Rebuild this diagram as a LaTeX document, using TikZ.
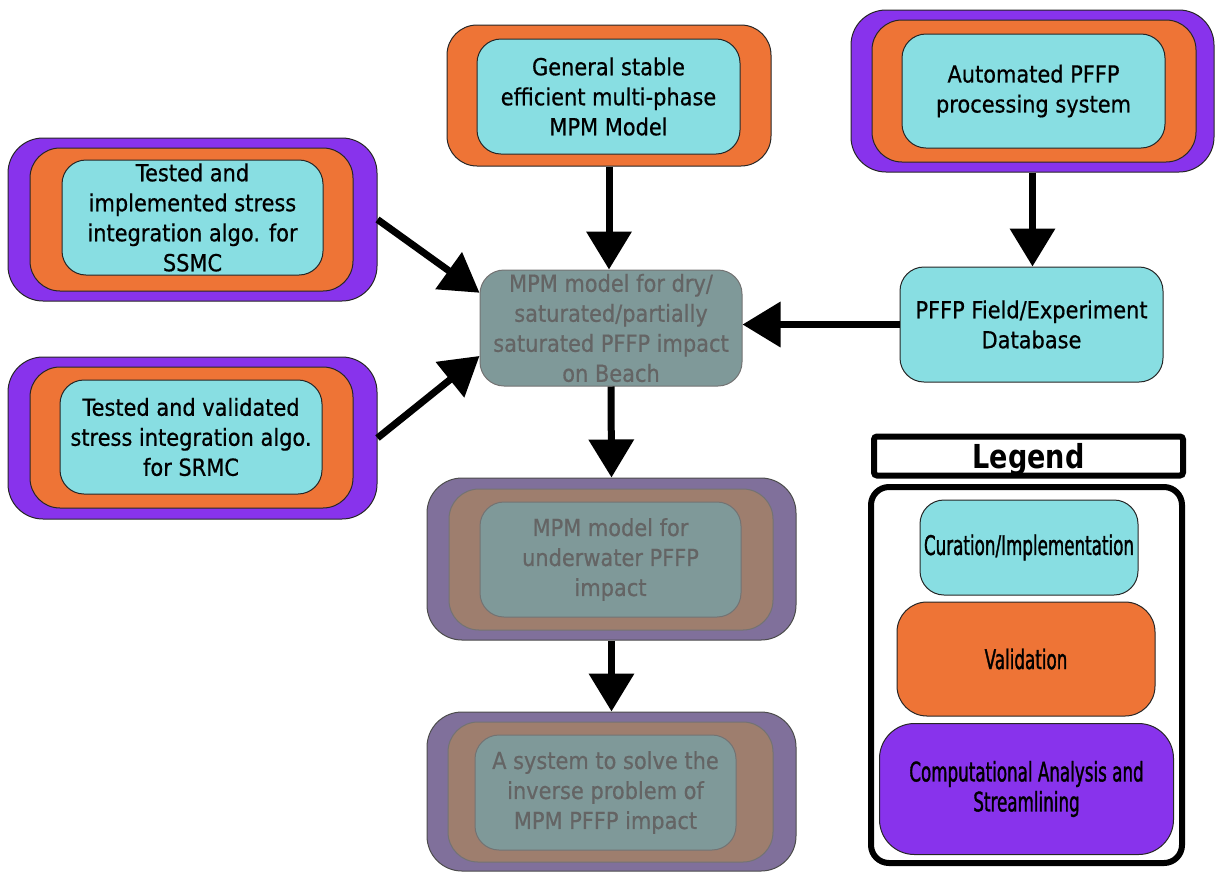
\documentclass[tikz,border=0pt]{standalone}
\usepackage{fontspec}
\setmainfont{DejaVu Sans}[FakeStretch=0.89,FakeBold=0.6]
\newfontfamily\legendfont[FakeStretch=0.62,FakeBold=1.2]{DejaVu Sans}
\newfontfamily\titlefont[FakeStretch=0.82]{DejaVu Sans}
\usetikzlibrary{arrows.meta}

\definecolor{curcyan}{RGB}{136,222,226}
\definecolor{valorange}{RGB}{238,116,54}
\definecolor{strpurple}{RGB}{136,51,236}
\definecolor{fadecyan}{RGB}{127,153,153}
\definecolor{fadeorange}{RGB}{158,126,110}
\definecolor{fadepurple}{RGB}{128,112,155}
\definecolor{fadetext}{RGB}{100,100,100}

\newcommand\boxfont{\fontsize{23.5}{30}\selectfont}
\newcommand\legfont{\legendfont\fontsize{27}{30}\selectfont}

\tikzset{
  sz/.style 2 args={minimum width=#1pt, minimum height=#2pt},
  layer/.style={draw=black!85, line width=1pt, inner sep=0pt, align=center, font=\boxfont},
  curate/.style={layer, fill=curcyan, rounded corners=24pt},
  valid/.style={layer, fill=valorange, rounded corners=30pt},
  stream/.style={layer, fill=strpurple, rounded corners=35pt},
  fcurate/.style={layer, draw=black!55, fill=fadecyan, rounded corners=24pt, text=fadetext},
  fvalid/.style={layer, draw=black!55, fill=fadeorange, rounded corners=30pt},
  fstream/.style={layer, draw=black!70, fill=fadepurple, rounded corners=35pt},
  arr/.style={line width=7pt, -{Triangle[length=38pt,width=44pt]}}
}

\begin{document}
\begin{tikzpicture}[x=1pt,y=-1pt]
\useasboundingbox (0,0) rectangle (1215,871);

% top centre
\node[valid, sz={324}{141}] (genOut) at (609,95.5) {};
\node[curate, sz={263}{115}] (gen) at (608.5,96.5) {General stable\\efficient multi-phase\\MPM Model};

% top right
\node[stream, sz={363}{162}] (autoOut) at (1032.5,91) {};
\node[valid, sz={324}{142}] (autoMid) at (1034,91) {};
\node[curate, sz={263}{114}] (auto) at (1033.5,91) {Automated PFFP\\processing system};

% left, SSMC
\node[stream, sz={369}{163}] (ssmcOut) at (192.5,219.5) {};
\node[valid, sz={323}{143}] (ssmcMid) at (191.5,219.5) {};
\node[curate, sz={261}{115}] (ssmc) at (192.5,217.5) {Tested and\\implemented stress\\integration algo. for\\SSMC};

% left, SRMC
\node[stream, sz={369}{162}] (srmcOut) at (192.5,438) {};
\node[valid, sz={323}{141}] (srmcMid) at (191.5,437.5) {};
\node[curate, sz={262}{114}] (srmc) at (191,437) {Tested and validated\\stress integration algo.\\for SRMC};

% centre
\node[fcurate, sz={262}{116}] (beach) at (611,328) {MPM model for dry/\\saturated/partially\\saturated PFFP impact\\on Beach};

% database
\node[curate, sz={263}{115}] (pffpDb) at (1031.5,324.5) {PFFP Field/Experiment\\Database};

% underwater
\node[fstream, sz={369}{162}] (underOut) at (611.5,559) {};
\node[fvalid, sz={324}{141}] (underMid) at (611,559.5) {};
\node[fcurate, sz={261}{115}] (under) at (610.5,559.5) {MPM model for\\underwater PFFP\\impact};

% inverse problem
\node[fstream, sz={369}{159}] (invOut) at (611.5,791.5) {};
\node[fvalid, sz={325}{140}] (invMid) at (610.5,792) {};
\node[fcurate, sz={261}{115}] (inv) at (605.5,792.5) {A system to solve the\\inverse problem of\\MPM PFFP impact};

% legend
\node[draw, line width=6pt, rounded corners=3pt, fill=white, sz={309}{39}, inner sep=0pt, text depth=0pt,
  font=\titlefont\bfseries\fontsize{33}{36}\selectfont] (legTitle) at (1028.5,456) {Legend};
\node[draw, line width=6pt, rounded corners=18pt, sz={311}{376}] (legFrame) at (1026.5,675) {};
\node[curate, sz={218}{95}, font=\legfont] (legCur) at (1029,547.5) {Curation/Implementation};
\node[valid, sz={258}{114}, font=\legfont] (legVal) at (1026,659) {Validation};
\node[stream, sz={294}{131}, font=\legfont] (legStr) at (1026.5,789) {Computational Analysis and\\Streamlining};

% arrows
\draw[arr] (genOut.south) -- (genOut.south |- beach.north);
\draw[arr] (autoOut.south) -- (autoOut.south |- pffpDb.north);
\draw[arr] (pffpDb.west) -- (pffpDb.west -| beach.east);
\draw[arr] (ssmcOut.east) -- (beach.165);
\draw[arr] (srmcOut.east) -- (beach.192);
\draw[arr] (beach.south) -- (underOut.north);
\draw[arr] (underOut.south) -- (invOut.north);
\end{tikzpicture}
\end{document}
